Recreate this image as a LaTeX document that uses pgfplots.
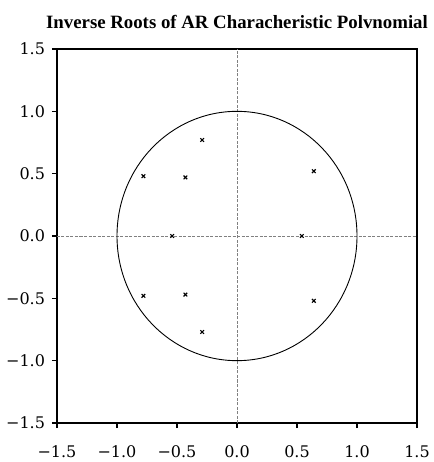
\documentclass[border=0pt]{standalone}
\usepackage{pgfplots}
\pgfplotsset{compat=1.18}
\usepackage{fontspec}
\setmainfont{Liberation Serif}
\newfontfamily\tickfont{DejaVu Serif}

\begin{document}
\begin{tikzpicture}
\begin{axis}[
    name=ax,
    scale only axis,
    width=360pt, height=374pt,
    xmin=-1.5, xmax=1.5, ymin=-1.5, ymax=1.5,
    xtick={-1.5,-1,-0.5,0,0.5,1,1.5},
    ytick={-1.5,-1,-0.5,0,0.5,1,1.5},
    xticklabels={−1.5,−1.0,−0.5,0.0,0.5,1.0,1.5},
    yticklabels={−1.5,−1.0,−0.5,0.0,0.5,1.0,1.5},
    tick align=outside, xtick pos=left, ytick pos=left,
    major tick length=5pt,
    tick style={black, line width=1.5pt},
    axis line style={line width=1.8pt},
    tick label style={font=\tickfont\fontsize{16}{19}\selectfont},
    xticklabel style={yshift=-14pt},
    yticklabel style={xshift=-3.5pt},
    title={\textbf{Inverse Roots of AR Characheristic Polvnomial}},
    title style={font=\fontsize{18.8}{22}\selectfont, yshift=11pt},
    clip=false,
]
  % reference axes through the origin
  \addplot[gray, line width=0.9pt, dash pattern=on 3pt off 1.5pt] coordinates {(-1.5,0) (1.5,0)};
  \addplot[gray, line width=0.9pt, dash pattern=on 3pt off 1.5pt] coordinates {(0,-1.5) (0,1.5)};
  % unit circle
  \draw[black, line width=0.9pt] (axis cs:0,0) ellipse [x radius=1, y radius=1];
  % inverse roots
  \addplot[only marks, mark=x, mark size=2.6pt, black, line width=1.1pt] coordinates {
    (-0.29,0.77) (-0.29,-0.77)
    (-0.78,0.48) (-0.78,-0.48)
    (-0.43,0.47) (-0.43,-0.47)
    (0.64,0.52) (0.64,-0.52)
    (-0.54,0) (0.54,0)
  };
\end{axis}
\pgfresetboundingbox
\path[use as bounding box] ([shift={(-57pt,-39pt)}]ax.south west) rectangle ([shift={(16pt,49pt)}]ax.north east);
\end{tikzpicture}
\end{document}
